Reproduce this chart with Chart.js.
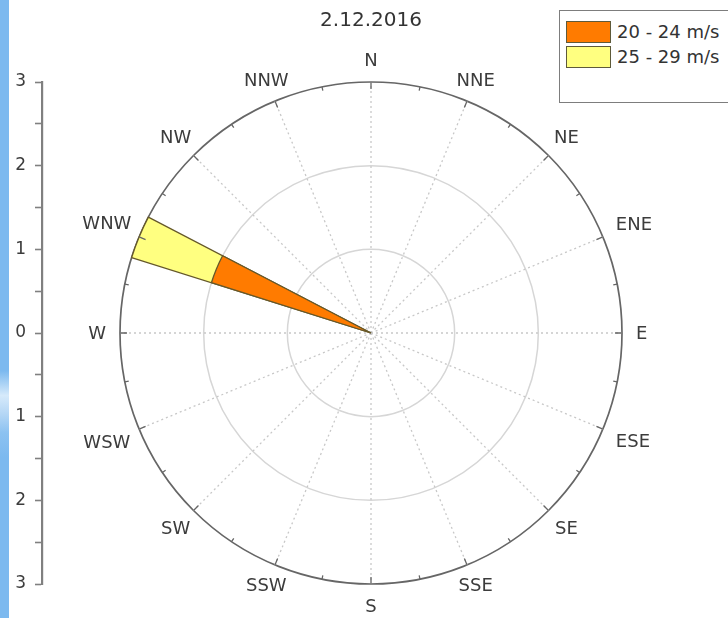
<!DOCTYPE html>
<html>
<head>
<meta charset="utf-8">
<title>2.12.2016</title>
<script src="https://cdn.jsdelivr.net/npm/chart.js@4.4.1/dist/chart.umd.min.js"></script>
<style>
  html, body { margin: 0; padding: 0; background: #fff; overflow: hidden; }
  #wrap { position: relative; width: 728px; height: 618px; }
  #rose { position: absolute; left: 0; top: 0; }
  #edge {
    position: absolute; left: 0; top: 0; width: 9px; height: 618px;
    background: linear-gradient(to bottom, #7cb9ef 0%, #7cb9ef 60%, #d6eafb 64%, #b4d6f5 67%, #8cc2f1 70%, #7cb9ef 74%, #7cb9ef 100%);
  }
  #legend {
    position: absolute; left: 559px; top: 10px; width: 200px; height: 93px;
    border: 1.5px solid #7d7d7d; box-sizing: border-box; background: #fff;
    font-family: "DejaVu Sans", sans-serif; font-size: 18px; color: #333;
  }
  #legend .row { position: absolute; left: 6px; height: 23px; display: flex; align-items: center; white-space: nowrap; }
  #legend .sw { width: 45px; height: 22px; border: 1.5px solid #5e5a3a; box-sizing: border-box; margin-right: 6px; }
</style>
</head>
<body>
<div id="wrap">
  <canvas id="rose" width="728" height="618"></canvas>
  <div id="legend"></div>
  <div id="edge"></div>
</div>
<script>
// wind directions, clockwise from north
const directions = ['N', 'NNE', 'NE', 'ENE', 'E', 'ESE', 'SE', 'SSE',
                    'S', 'SSW', 'SW', 'WSW', 'W', 'WNW', 'NW', 'NNW'];
// frequency per direction for each speed bin
const speed20to24 = [0, 0, 0, 0, 0, 0, 0, 0, 0, 0, 0, 0, 0, 2, 0, 0];
const speed25to29 = [0, 0, 0, 0, 0, 0, 0, 0, 0, 0, 0, 0, 0, 1, 0, 0];
const speedBins = ['20 - 24 m/s', '25 - 29 m/s'];
const binColors = ['#FF7B00', '#FFFF80'];
const radialMax = 3;
const axisRange = [-3, 3];

const SECTOR_WIDTH = 10;                        // degrees covered by one petal
const STEP = 360 / directions.length;           // degrees between directions

// One arc per direction followed by an empty spacer; the leading spacer turns
// the sequence back by half a petal so every petal is centred on its direction.
function sectorSeries(values) {
  const out = [null];
  values.forEach(v => out.push(v, null));
  return out;
}
const sectorAngles = [-SECTOR_WIDTH / 2];
directions.forEach(() => sectorAngles.push(SECTOR_WIDTH, STEP - SECTOR_WIDTH));

// petals are stacked: the outer bin reaches the sum of both bins
const stackedTop = speed20to24.map((v, i) => v + speed25to29[i]);

const FONT = 'DejaVu Sans';
const edgeColor = '#65582a';

const petalOptions = {
  borderColor: edgeColor,
  borderWidth: c => (c.raw == null ? 0 : 1.3),
  angle: c => sectorAngles[c.dataIndex]
};

// compass labels centred just outside the outer ring
const directionLabels = {
  id: 'directionLabels',
  afterDraw(chart, args, o) {
    const r = chart.scales.r;
    const ctx = chart.ctx;
    ctx.save();
    ctx.font = o.size + 'px "' + FONT + '"';
    ctx.fillStyle = o.color;
    ctx.textAlign = 'center';
    ctx.textBaseline = 'middle';
    r.getLabels().forEach((text, i) => {
      const a = r.getIndexAngle(i);
      const hw = ctx.measureText(text).width / 2;
      const s = Math.abs(Math.sin(a)), c = Math.abs(Math.cos(a));
      const reach = Math.min(s > 1e-6 ? hw / s : Infinity, c > 1e-6 ? o.halfHeight / c : Infinity);
      const p = r.getPointPosition(i, r.drawingArea + o.gap + reach);
      ctx.fillText(text, p.x, p.y + 1);
    });
    ctx.restore();
  }
};

// short marks on the outer ring: long at each direction, short half-way between
const rimTicks = {
  id: 'rimTicks',
  afterDatasetsDraw(chart, args, o) {
    const r = chart.scales.r;
    const ctx = chart.ctx;
    const R = r.drawingArea;
    const n = r.getLabels().length;
    ctx.save();
    ctx.strokeStyle = o.color;
    ctx.lineWidth = o.width;
    ctx.beginPath();
    for (let i = 0; i < n; i++) {
      [[0, o.major], [Math.PI / n, o.minor]].forEach(([off, len]) => {
        const p1 = r.getPointPosition(i, R, off);
        const p2 = r.getPointPosition(i, R - len, off);
        ctx.moveTo(p1.x, p1.y);
        ctx.lineTo(p2.x, p2.y);
      });
    }
    ctx.stroke();
    ctx.restore();
  }
};

const chart = new Chart(document.getElementById('rose'), {
  type: 'polarArea',
  data: {
    labels: directions,
    datasets: [
      Object.assign({ label: speedBins[0], data: sectorSeries(speed20to24), backgroundColor: binColors[0] }, petalOptions),
      Object.assign({ label: speedBins[1], data: sectorSeries(stackedTop), backgroundColor: binColors[1] }, petalOptions)
    ]
  },
  plugins: [directionLabels, rimTicks],
  options: {
    responsive: false,
    animation: false,
    events: [],
    layout: { padding: { left: 14, right: 28, top: 0, bottom: 34 } },
    scales: {
      r: {
        min: 0,
        max: radialMax,
        startAngle: 0,
        ticks: { display: false, stepSize: 1 },
        grid: {
          circular: true,
          color: c => (c.tick.value === radialMax ? '#666' : '#d6d6d6'),
          lineWidth: c => (c.tick.value === radialMax ? 1.7 : 1.5)
        },
        angleLines: { display: true, color: '#c8c8c8', lineWidth: 1.3, borderDash: [2, 3] },
        pointLabels: { display: false }
      },
      y: {
        type: 'linear',
        position: 'left',
        min: axisRange[0],
        max: axisRange[1],
        afterFit: s => { s.width = 28; },
        ticks: {
          stepSize: 0.5,
          autoSkip: false,
          padding: 9,
          color: '#3c3c3c',
          font: { family: FONT, size: 17 },
          callback: v => (Number.isInteger(v) ? String(Math.abs(v)) : '')
        },
        grid: { drawOnChartArea: false, drawTicks: true, tickLength: 7, tickColor: '#808080', tickWidth: 1.6 },
        border: { display: true, color: '#808080', width: 2.2 }
      }
    },
    plugins: {
      legend: { display: false },
      tooltip: { enabled: false },
      title: {
        display: true,
        text: '2.12.2016',
        fullSize: false,
        color: '#333',
        font: { family: FONT, size: 20, weight: 'normal' },
        padding: { top: 9, bottom: 49 }
      },
      directionLabels: { size: 18, color: '#3c3c3c', gap: 14, halfHeight: 8 },
      rimTicks: { color: '#666', width: 1.3, major: 7, minor: 4 }
    }
  }
});

// legend listing the speed bins with their fill colours
const legend = document.getElementById('legend');
chart.data.datasets.forEach((ds, i) => {
  const row = document.createElement('div');
  row.className = 'row';
  row.style.top = (9 + i * 25) + 'px';
  const sw = document.createElement('span');
  sw.className = 'sw';
  sw.style.background = ds.backgroundColor;
  const txt = document.createElement('span');
  txt.textContent = ds.label;
  row.appendChild(sw);
  row.appendChild(txt);
  legend.appendChild(row);
});
</script>
</body>
</html>
